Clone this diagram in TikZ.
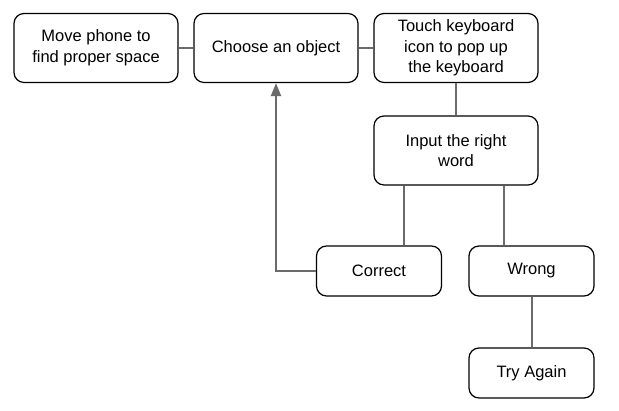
\documentclass[tikz,border=0pt]{standalone}
\usepackage{fontspec}
\setmainfont{Liberation Sans}
\usetikzlibrary{arrows.meta}
\begin{document}
\begin{tikzpicture}[x=1pt,y=1pt,
  box/.style={draw=black, line width=1.2pt, rounded corners=10pt, align=center,
    inner sep=0pt, font=\fontsize{16.5}{20.7}\selectfont},
  topbox/.style={box, minimum width=164pt, minimum height=69pt},
  smallbox/.style={box, minimum width=125pt, minimum height=50pt},
  link/.style={draw=black!58, line width=2pt}]
\useasboundingbox (0,0) rectangle (619,411);
\node[topbox] (move) at (96,363) {Move phone to\\find proper space};
\node[topbox] (choose) at (276,363) {Choose an object};
\node[topbox] (touch) at (456,363) {Touch keyboard\\icon to pop up\\the keyboard};
\node[topbox] (input) at (456,260.5) {Input the right\\word};
\node[smallbox] (corr) at (379,140) {Correct};
\node[smallbox] (wrong) at (531.5,140) {Wrong};
\node[smallbox] (again) at (531.5,38) {Try Again};
\draw[link] (move) -- (choose);
\draw[link] (choose) -- (touch);
\draw[link] (touch) -- (input);
\draw[link] ([xshift=-52pt]input.south) -- ([xshift=-52pt]input.south |- corr.north);
\draw[link] ([xshift=48pt]input.south) -- ([xshift=48pt]input.south |- wrong.north);
\draw[link] (wrong) -- (again);
\draw[link, -{Triangle[length=13pt,width=10pt]}] (corr.west) -| (choose.south);
\end{tikzpicture}
\end{document}
